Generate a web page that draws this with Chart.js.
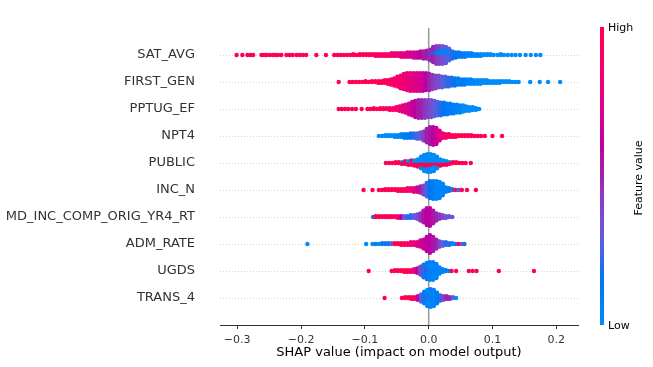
<!DOCTYPE html>
<html>
<head>
<meta charset="utf-8">
<script src="https://cdn.jsdelivr.net/npm/chart.js@4"></script>
<style>
  html, body { margin: 0; padding: 0; background: #fff; }
  #wrap { width: 653px; height: 367px; }
</style>
</head>
<body>
<div id="wrap"><canvas id="shapChart" width="653" height="367"></canvas></div>
<script>
// ── Data: features (top to bottom) and SHAP samples as [shap value, count, feature value 0..1] ──
const features = ['SAT_AVG', 'FIRST_GEN', 'PPTUG_EF', 'NPT4', 'PUBLIC', 'INC_N',
  'MD_INC_COMP_ORIG_YR4_RT', 'ADM_RATE', 'UGDS', 'TRANS_4'];
const xTicks = [-0.3, -0.2, -0.1, 0.0, 0.1, 0.2];

const satAvg = [
  [-0.301,1,1],[-0.292,1,1],[-0.284,1,1],[-0.279,1,1],[-0.275,1,1],[-0.262,1,1],[-0.258,1,1],[-0.254,1,1],
  [-0.249,1,1],[-0.244,1,1],[-0.240,1,1],[-0.236,1,1],[-0.231,1,1],[-0.223,1,1],[-0.218,1,1],[-0.213,1,1],
  [-0.207,1,1],[-0.202,1,1],[-0.197,1,1],[-0.192,1,1],[-0.176,1,1],[-0.161,1,1],[-0.148,1,1],[-0.143,1,1],
  [-0.138,1,1],[-0.133,1,1],[-0.128,1,1],[-0.123,1,1],[-0.118,2,1],[-0.113,1,1],[-0.108,2,1],[-0.103,2,1],
  [-0.098,2,1],[-0.093,2,0.95],[-0.088,2,0.95],[-0.083,3,0.95],[-0.078,3,0.9],[-0.073,3,0.9],[-0.068,3,0.9],
  [-0.063,3,0.88],[-0.058,4,0.85],[-0.053,4,0.85],[-0.048,4,0.8],[-0.043,5,0.8],[-0.038,5,0.75],[-0.033,6,0.72],
  [-0.028,6,0.7],[-0.023,7,0.68],[-0.018,7,0.65],[-0.013,8,0.6],[-0.008,9,0.55],[-0.003,10,0.5],[0.002,13,0.48],
  [0.007,14,0.5],[0.007,4,0.15],[0.012,15,0.45],[0.012,6,0.1],[0.017,14,0.4],[0.017,7,0.05],[0.022,13,0.35],
  [0.022,8,0.05],[0.027,11,0.3],[0.027,8,0.05],[0.032,8,0.25],[0.032,6,0.05],[0.037,9,0.2],
  [0.042,7,0.15],[0.047,6,0.12],[0.052,5,0.1],[0.057,5,0.08],[0.062,4,0.06],[0.067,4,0.05],[0.072,3,0.04],
  [0.077,3,0.03],[0.082,3,0],[0.087,2,0],[0.092,2,0],[0.097,2,0],[0.102,1,0],[0.108,1,0],[0.113,2,0],
  [0.118,1,0],[0.124,1,0],[0.130,1,0],[0.136,1,0],[0.143,1,0],[0.152,1,0],[0.160,1,0],[0.168,1,0],[0.175,1,0]
];
const firstGen = [
  [-0.141,1,1],[-0.124,1,1],[-0.119,1,1],[-0.114,1,1],[-0.109,1,1],[-0.104,1,1],[-0.099,2,1],[-0.094,1,1],
  [-0.089,2,1],[-0.084,2,1],[-0.079,3,1],[-0.074,3,0.95],[-0.069,4,0.95],[-0.064,5,0.95],[-0.059,7,0.9],
  [-0.054,9,0.9],[-0.049,12,0.9],[-0.044,15,0.85],[-0.039,18,0.85],[-0.034,20,0.8],[-0.029,21,0.8],
  [-0.024,21,0.75],[-0.019,21,0.75],[-0.014,21,0.7],[-0.009,21,0.65],[-0.004,20,0.6],[0.001,19,0.5],
  [0.006,17,0.45],[0.011,15,0.4],[0.016,14,0.35],[0.021,13,0.3],[0.026,12,0.25],[0.031,11,0.2],[0.036,10,0.2],
  [0.041,9,0.15],[0.046,8,0.1],[0.051,7,0.1],[0.056,7,0.1],[0.061,6,0.05],[0.066,6,0.05],[0.071,5,0.05],
  [0.076,5,0],[0.081,5,0],[0.086,4,0],[0.091,4,0],[0.096,3,0],[0.101,3,0],[0.106,3,0],[0.111,3,0],[0.116,2,0],
  [0.121,2,0],[0.126,2,0],[0.131,1,0],[0.136,1,0],[0.141,1,0],[0.159,1,0],[0.174,1,0],[0.187,1,0],[0.206,1,0]
];
const pptugEf = [
  [-0.141,1,1],[-0.136,1,1],[-0.131,1,1],[-0.126,1,1],[-0.120,1,1],[-0.114,1,1],[-0.105,1,1],[-0.096,1,1],
  [-0.091,1,1],[-0.086,2,1],[-0.081,1,1],[-0.076,2,1],[-0.071,2,1],[-0.066,2,0.95],[-0.061,3,0.95],
  [-0.056,3,0.9],[-0.051,4,0.9],[-0.046,6,0.85],[-0.041,8,0.8],[-0.036,10,0.75],[-0.031,13,0.7],
  [-0.026,16,0.65],[-0.021,19,0.6],[-0.016,21,0.55],[-0.011,21,0.5],[-0.006,21,0.45],[-0.001,20,0.4],
  [0.004,20,0.35],[0.009,18,0.3],[0.014,16,0.25],[0.019,15,0.2],[0.024,14,0.15],[0.029,13,0.12],[0.034,12,0.1],
  [0.039,11,0.08],[0.044,10,0.05],[0.049,9,0.05],[0.054,8,0],[0.059,6,0],[0.064,5,0],[0.069,4,0],[0.074,3,0],
  [0.079,1,0]
];
const npt4 = [
  [-0.078,1,0],[-0.073,1,0],[-0.068,2,0],[-0.063,2,0],[-0.058,2,0],[-0.053,3,0],[-0.048,3,0.05],[-0.043,4,0.05],
  [-0.038,5,0.1],[-0.033,5,0.1],[-0.028,6,0.15],[-0.023,6,0.2],[-0.018,7,0.25],[-0.013,8,0.3],[-0.008,11,0.4],
  [-0.003,16,0.5],[0.002,20,0.55],[0.007,21,0.6],[0.012,19,0.65],[0.017,12,0.75],[0.022,6,0.85],[0.027,5,0.9],
  [0.032,4,0.9],[0.037,3,0.95],[0.042,3,1],[0.047,2,1],[0.052,2,1],[0.057,2,1],[0.062,2,1],[0.067,2,1],
  [0.072,1,1],[0.077,1,1],[0.082,1,1],[0.088,1,1],[0.100,1,1],[0.115,1,1]
];
const publicCtl = [
  [-0.067,1,1],[-0.062,1,1],[-0.057,1,1],[-0.052,2,1],[-0.047,2,1],[-0.042,2,1],[-0.042,1,0],[-0.037,3,1],
  [-0.037,1,0],[-0.032,3,1],[-0.032,2,0],[-0.027,4,1],[-0.027,2,0],[-0.022,4,1],[-0.022,3,0],[-0.017,5,1],
  [-0.017,4,0],[-0.012,6,1],[-0.012,8,0],[-0.007,7,1],[-0.007,12,0],[-0.002,7,1],[-0.002,14,0],[0.003,6,1],
  [0.003,15,0],[0.008,5,1],[0.008,14,0],[0.013,5,1],[0.013,9,0],[0.018,4,1],[0.018,4,0],[0.023,3,1],
  [0.023,3,0],[0.028,3,1],[0.028,2,0],[0.033,2,1],[0.033,1,0],[0.038,2,1],[0.043,2,1],[0.048,1,1],
  [0.053,1,1],[0.058,1,1],[0.066,1,1]
];
const incN = [
  [-0.102,1,1],[-0.088,1,1],[-0.078,1,1],[-0.073,1,1],[-0.068,2,1],[-0.063,2,1],[-0.058,2,1],[-0.053,2,1],
  [-0.048,3,1],[-0.043,3,0.95],[-0.038,3,0.95],[-0.033,4,0.9],[-0.028,4,0.85],[-0.023,5,0.8],[-0.018,6,0.7],
  [-0.013,8,0.55],[-0.008,11,0.4],[-0.003,16,0.25],[0.002,20,0.15],[0.007,21,0.1],[0.012,21,0.05],
  [0.017,19,0.05],[0.022,14,0.05],[0.027,6,0.05],[0.032,4,0.1],[0.037,2,0.2],[0.042,1,1],[0.047,1,0.3],
  [0.052,1,1],[0.060,1,1],[0.074,1,1]
];
const mdIncComp = [
  [-0.087,1,0.2],[-0.083,2,1],[-0.078,2,1],[-0.073,2,1],[-0.068,2,1],[-0.063,2,1],[-0.058,2,1],[-0.053,2,0.9],
  [-0.048,3,0.9],[-0.043,3,0.6],[-0.038,3,0.3],[-0.033,3,0.2],[-0.028,4,0.2],[-0.023,4,0.3],[-0.018,6,0.35],
  [-0.013,9,0.45],[-0.008,14,0.55],[-0.003,20,0.6],[0.002,21,0.6],[0.007,15,0.55],[0.012,9,0.5],[0.017,6,0.45],
  [0.022,4,0.4],[0.027,3,0.35],[0.032,2,0.3],[0.037,1,0.3]
];
const admRate = [
  [-0.190,1,0],[-0.098,1,0],[-0.088,1,0],[-0.083,1,0.1],[-0.078,1,0],[-0.073,2,0.1],[-0.068,2,0.2],[-0.063,2,0.1],
  [-0.058,2,0.3],[-0.053,2,1],[-0.048,2,1],[-0.043,3,0.9],[-0.038,3,1],[-0.033,3,0.9],[-0.028,4,0.85],
  [-0.023,4,0.8],[-0.018,5,0.75],[-0.013,8,0.7],[-0.008,11,0.65],[-0.003,17,0.6],[0.002,21,0.6],[0.007,17,0.55],
  [0.012,11,0.5],[0.017,7,0.4],[0.022,5,0.3],[0.027,4,0.2],[0.032,3,0.2],[0.037,2,0.1],[0.042,1,0.1],
  [0.047,1,1],[0.052,1,0.3],[0.056,1,0.2]
];
const ugds = [
  [-0.094,1,1],[-0.058,1,1],[-0.053,2,1],[-0.048,2,1],[-0.043,2,1],[-0.038,3,1],[-0.033,3,1],[-0.028,3,0.9],
  [-0.023,4,0.8],[-0.018,6,0.6],[-0.013,10,0.4],[-0.008,15,0.2],[-0.003,17,0.1],[-0.003,2,1],[0.002,21,0.05],
  [0.007,20,0.05],[0.007,1,1],[0.012,17,0.05],[0.017,8,0.05],[0.022,4,0.05],[0.027,2,0.1],[0.032,1,0.05],
  [0.036,1,1],[0.043,1,1],[0.063,1,1],[0.069,1,1],[0.075,1,1],[0.110,1,1],[0.165,1,1]
];
const trans4 = [
  [-0.069,1,1],[-0.042,1,1],[-0.037,2,1],[-0.032,2,1],[-0.027,3,1],[-0.022,3,0.9],[-0.017,5,0.6],[-0.012,9,0.3],
  [-0.007,14,0.1],[-0.002,17,0.05],[-0.002,2,1],[0.003,21,0.05],[0.008,18,0.05],[0.008,1,1],[0.013,13,0.1],
  [0.018,7,0.2],[0.023,5,0.4],[0.028,4,0.5],[0.033,3,0.5],[0.038,2,0.3],[0.043,1,0]
];
const featureSamples = [satAvg, firstGen, pptugEf, npt4, publicCtl, incN, mdIncComp, admRate, ugds, trans4];

// ── shap red_blue colormap (LCH blend, blue=low → red=high) ──
function redBlue(t) {
  const L = t < 0.5 ? 54 + (40 - 54) * (t / 0.5) : 40 + (54 - 40) * ((t - 0.5) / 0.5);
  const C = 70 + 20 * t;
  const H = 4.6588 + (0.35470565 + 2 * Math.PI - 4.6588) * t;
  const a = C * Math.cos(H), b = C * Math.sin(H);
  const fy = (L + 16) / 116, fx = fy + a / 500, fz = fy - b / 200;
  const inv = v => (v * v * v > 0.008856 ? v * v * v : (v - 16 / 116) / 7.787);
  const X = 0.95047 * inv(fx), Y = inv(fy), Z = 1.08883 * inv(fz);
  const lin = [
    3.2404542 * X - 1.5371385 * Y - 0.4985314 * Z,
    -0.9692660 * X + 1.8760108 * Y + 0.0415560 * Z,
    0.0556434 * X - 0.2040259 * Y + 1.0572252 * Z
  ];
  const rgb = lin.map(v => {
    const g = v > 0.0031308 ? 1.055 * Math.pow(v, 1 / 2.4) - 0.055 : 12.92 * v;
    return Math.round(Math.max(0, Math.min(1, g)) * 255);
  });
  return 'rgb(' + rgb.join(',') + ')';
}

// ── Beeswarm stacking (same as shap: pile points that share an x, alternating up/down) ──
function swarm(samples, pos) {
  const groups = new Map();
  samples.forEach(([v, n, f]) => {
    const key = v.toFixed(3);
    if (!groups.has(key)) groups.set(key, []);
    const sub = [];
    for (let k = 0; k < n; k++) sub.push([v, f]);
    groups.get(key).push(sub);
  });
  // interleave sub-groups so mixed colours spread through the stack
  const stacks = [];
  groups.forEach(subs => {
    const out = [];
    let more = true, i = 0;
    while (more) {
      more = false;
      subs.forEach(s => { if (i < s.length) { out.push(s[i]); more = true; } });
      i++;
    }
    stacks.push(out);
  });
  let maxOff = 0;
  stacks.forEach(s => { maxOff = Math.max(maxOff, Math.ceil((s.length - 1) / 2)); });
  const step = 0.9 * 0.4 / (maxOff + 1);
  const data = [], colors = [];
  stacks.forEach(s => s.forEach(([v, f], layer) => {
    const off = Math.ceil(layer / 2) * (layer % 2 ? 1 : -1);
    data.push({ x: v, y: pos + off * step });
    colors.push(redBlue(f));
  }));
  return { data, colors };
}

const nRows = features.length;
const datasets = featureSamples.map((s, i) => {
  const sw = swarm(s, nRows - 1 - i);
  return {
    label: features[i],
    data: sw.data,
    backgroundColor: sw.colors,
    pointRadius: 2.2,
    pointBorderWidth: 0,
    pointHoverRadius: 2.2
  };
});

// ── Guides: dotted row lines and the zero line, behind points ──
const guides = {
  id: 'guides',
  beforeDatasetsDraw(chart) {
    const { ctx, chartArea: a, scales: { x, y } } = chart;
    ctx.save();
    ctx.strokeStyle = '#d4d4d4';
    ctx.lineWidth = 1;
    ctx.setLineDash([1, 2]);
    for (let p = 0; p < nRows; p++) {
      const py = Math.round(y.getPixelForValue(p)) + 0.5;
      ctx.beginPath(); ctx.moveTo(a.left, py); ctx.lineTo(a.right, py); ctx.stroke();
    }
    ctx.setLineDash([]);
    ctx.strokeStyle = '#999999';
    ctx.lineWidth = 1.5;
    const px = x.getPixelForValue(0);
    ctx.beginPath(); ctx.moveTo(px, a.top); ctx.lineTo(px, a.bottom); ctx.stroke();
    ctx.restore();
  }
};

// ── Colour bar on the right ──
const colorBar = {
  id: 'colorBar',
  afterDraw(chart) {
    const ctx = chart.ctx;
    const top = 27, bottom = 325, left = 600, w = 4;
    ctx.save();
    const grad = ctx.createLinearGradient(0, bottom, 0, top);
    for (let i = 0; i <= 20; i++) grad.addColorStop(i / 20, redBlue(i / 20));
    ctx.fillStyle = grad;
    ctx.fillRect(left, top, w, bottom - top);
    ctx.fillStyle = '#000';
    ctx.font = "11px 'DejaVu Sans'";
    ctx.textBaseline = 'middle';
    ctx.textAlign = 'left';
    ctx.fillText('High', 608, top + 1);
    ctx.fillText('Low', 608, bottom + 1);
    ctx.translate(639, 178);
    ctx.rotate(-Math.PI / 2);
    ctx.textAlign = 'center';
    ctx.fillText('Feature value', 0, 0);
    ctx.restore();
  }
};

new Chart(document.getElementById('shapChart'), {
  type: 'scatter',
  data: { datasets },
  options: {
    responsive: false,
    animation: false,
    devicePixelRatio: 1,
    layout: { padding: { top: 28, right: 75, left: 0, bottom: 0 } },
    plugins: { legend: { display: false }, tooltip: { enabled: false } },
    events: [],
    scales: {
      x: {
        type: 'linear',
        min: -0.327,
        max: 0.234,
        afterBuildTicks: s => { s.ticks = xTicks.map(v => ({ value: v })); },
        afterFit: s => { s.height = 42; s.paddingLeft = 0; s.paddingRight = 0; },
        grid: { drawOnChartArea: false, drawTicks: true, tickLength: 4, color: '#333333' },
        border: { display: true, color: '#333333', width: 1 },
        ticks: {
          color: '#333333',
          font: { family: 'DejaVu Sans', size: 11 },
          padding: 5,
          maxRotation: 0,
          callback: v => (v < 0 ? '\u2212' : '') + Math.abs(v).toFixed(1)
        },
        title: {
          display: true,
          text: 'SHAP value (impact on model output)',
          color: '#000',
          font: { family: 'DejaVu Sans', size: 13 },
          padding: { top: 0, bottom: 7 }
        }
      },
      y: {
        type: 'linear',
        min: -1,
        max: nRows,
        afterBuildTicks: s => { s.ticks = features.map((f, i) => ({ value: nRows - 1 - i })); },
        afterFit: s => { s.width = 220; s.paddingTop = 0; s.paddingBottom = 0; },
        grid: { display: false, drawTicks: false },
        border: { display: false },
        ticks: {
          color: '#333333',
          font: { family: 'DejaVu Sans', size: 13 },
          padding: 25,
          callback: v => features[nRows - 1 - v]
        }
      }
    }
  },
  plugins: [guides, colorBar]
});
</script>
</body>
</html>
